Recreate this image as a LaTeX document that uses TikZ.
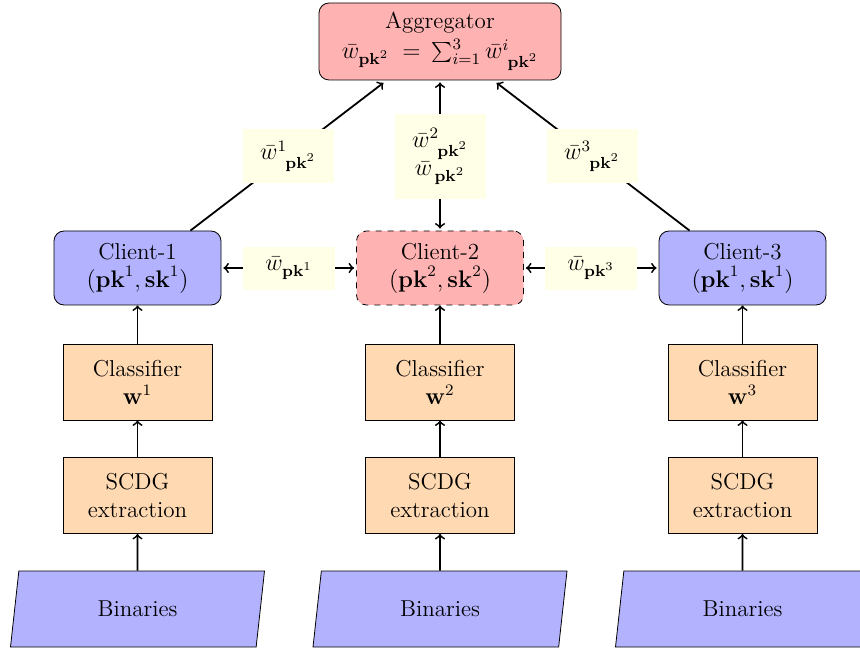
\documentclass[tikz,border=0pt]{standalone}
\usetikzlibrary{shapes.geometric,calc}
\begin{document}
\begin{tikzpicture}[x=0.5pt,y=-0.5pt,
  every node/.style={align=center,inner sep=0pt,font=\fontsize{11.5}{14}\selectfont},
  aggbox/.style={draw,rounded corners=5pt,fill=red!30,minimum width=121pt,minimum height=38.5pt},
  clientbox/.style={draw,rounded corners=5pt,fill=blue!30,minimum width=83.5pt,minimum height=37pt},
  procbox/.style={draw,fill=orange!30,minimum width=74.5pt,minimum height=38pt},
  binbox/.style={draw,trapezium,trapezium left angle=80,trapezium right angle=100,trapezium stretches=true,fill=blue!30,minimum width=127.5pt,minimum height=38pt},
  lab/.style={fill=yellow!10,minimum width=45.5pt,minimum height=27pt},
  hlab/.style={fill=yellow!10,minimum width=46pt,minimum height=21.5pt},
  arr/.style={->,line width=0.9pt},
  darr/.style={<->,line width=0.9pt}
]
\useasboundingbox (0,0) rectangle (860,651);
\node[aggbox] (agg) at (440,41.5) {Aggregator\\[1pt]$\bar{w}_{\mathbf{pk}^2}\;=\,\sum_{i=1}^{3}\bar{w}^{i}_{\hphantom{i}\mathbf{pk}^2}$};
\node[clientbox] (c1) at (137.5,268) {Client-1\\$(\mathbf{pk}^1,\mathbf{sk}^1)$};
\node[clientbox,fill=red!30,dashed] (c2) at (440,268) {Client-2\\$(\mathbf{pk}^2,\mathbf{sk}^2)$};
\node[clientbox] (c3) at (742.5,268) {Client-3\\$(\mathbf{pk}^1,\mathbf{sk}^1)$};
\foreach \i/\x in {1/137.5,2/440,3/742.5}{
  \node[procbox] (cl\i) at (\x,382) {Classifier\\$\mathbf{w}^{\i}$};
  \node[procbox] (sc\i) at (\x,495.5) {SCDG\\extraction};
  \node[binbox] (b\i) at (\x,609) {Binaries};
  \draw[arr] (b\i.north) -- (sc\i.south);
  \draw[arr] (sc\i.north) -- (cl\i.south);
}
\draw[arr] (cl1.north) -- (c1.south);
\draw[arr] (cl2.north) -- (c2.south);
\draw[arr] (cl3.north) -- (c3.south);
% diagonal and vertical to aggregator
\draw[arr,shorten >=2pt] ([xshift=-15.5pt]c1.north east) -- ([xshift=34pt]agg.south west);
\draw[arr,shorten >=2pt] ([xshift=15.5pt]c3.north west) -- ([xshift=-34pt]agg.south east);
\draw[darr,shorten >=1pt,shorten <=1pt] (agg.south) -- (c2.north);
\node[lab] (l1) at (288,156) {$\bar{w}^{1}_{\hphantom{1}\mathbf{pk}^2}$};
\node[lab] (l3) at (592,156) {$\bar{w}^{3}_{\hphantom{3}\mathbf{pk}^2}$};
\node[lab,minimum height=42.5pt] (l2) at (440,156.5) {$\bar{w}^{2}_{\hphantom{2}\mathbf{pk}^2}$\\$\bar{w}_{\,\mathbf{pk}^2}$};
% horizontal
\draw[darr,shorten >=1pt,shorten <=1pt] (c1.east) -- (c2.west);
\draw[darr,shorten >=1pt,shorten <=1pt] (c2.east) -- (c3.west);
\node[hlab] (h1) at (289,268.5) {$\bar{w}_{\mathbf{pk}^1}$};
\node[hlab] (h3) at (591,268.5) {$\bar{w}_{\mathbf{pk}^3}$};
\end{tikzpicture}
\end{document}
